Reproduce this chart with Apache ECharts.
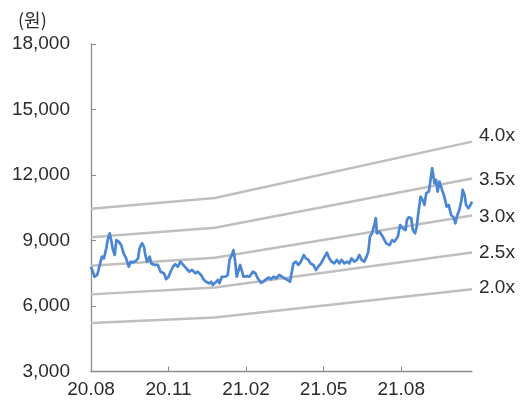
<!DOCTYPE html>
<html>
<head>
<meta charset="utf-8">
<script src="https://cdn.jsdelivr.net/npm/echarts@6/dist/echarts.min.js"></script>
<style>
  html, body { margin: 0; padding: 0; background: #fff; }
  #chart { width: 531px; height: 410px; }
</style>
</head>
<body>
<div id="chart"></div>
<script>
// Months elapsed since August 2020 (x) and share price in won (y)
const priceMonths = [
  0.00,0.14,0.24,0.34,0.42,0.50,0.59,0.66,0.72,0.78,
  0.85,0.92,0.98,1.07,1.17,1.26,1.36,1.46,1.53,1.62,
  1.73,1.82,1.88,1.97,2.05,2.10,2.17,2.27,2.33,2.46,
  2.59,2.69,2.82,2.91,3.00,3.08,3.17,3.26,3.36,3.46,
  3.55,
  3.68,3.81,3.91,4.04,4.13,4.26,4.35,4.45,4.56,4.65,
  4.71,4.80,4.91,4.97,5.06,5.13,5.20,5.29,5.36,5.45,
  5.51,5.57,5.64,5.70,5.77,5.83,5.90,6.03,6.13,6.26,
  6.36,6.45,6.58,6.67,6.77,6.88,6.96,7.06,7.16,7.29,
  7.35,7.48,7.61,7.70,7.76,7.83,7.93,8.02,8.12,8.23,
  8.32,8.41,8.49,8.55,8.61,8.70,8.79,8.90,9.00,9.13,
  9.22,9.31,9.41,9.51,9.61,9.69,9.80,9.90,9.99,10.08,
  10.19,10.29,10.38,10.47,10.57,10.66,10.73,10.79,10.87,10.96,
  11.02,
  11.06,11.16,11.29,11.42,11.55,11.65,11.74,11.87,11.96,12.06,
  12.17,12.22,12.29,12.39,12.45,12.54,12.60,12.68,12.75,12.83,
  12.90,12.97,13.07,13.13,13.20,13.29,13.35,13.41,13.48,13.56,
  13.67,13.76,13.84,13.93,14.02,14.10,14.16,14.25,14.32,14.38,
  14.45,14.51,14.60,14.68,14.74
];
const priceValues = [
  7800,7340,7420,7880,8260,8180,8640,9100,9330,9020,
  8560,8340,9020,8950,8790,8410,8180,7800,8030,8000,
  8060,8180,8640,8870,8720,8340,8030,8260,7950,7880,
  7880,7570,7500,7230,7340,7570,7800,7910,7800,8030,
  7910,
  7730,7570,7650,7500,7570,7420,7220,7110,7040,7110,
  6960,7060,7190,7040,7340,7270,7340,7420,8110,8340,
  8560,8110,7340,7310,7880,7800,7340,7370,7340,7570,
  7500,7270,7060,7110,7220,7310,7220,7340,7270,7420,
  7340,7270,7190,7110,7500,7950,8030,7880,8030,8340,
  8180,8110,7950,8030,7880,7650,7800,7950,8180,8440,
  8180,8030,7950,8110,7950,8110,7950,8030,7950,8180,
  8030,8110,8340,8110,8030,8260,8490,9170,9330,9710,
  10020,
  9330,9400,9170,8870,8790,9020,8950,9170,9710,9560,
  9480,9940,10070,10020,9480,9330,9630,10400,11010,10860,
  10630,11170,11240,11170,12310,11620,11780,11240,11700,11400,
  11010,10550,10630,10170,10070,9790,10120,10400,10780,11320,
  11090,10630,10480,10630,10780
];

// Book value per share (won) used for the P/B bands
const bpsMonths = [0, 4.79, 14.74];
const bpsValues = [2613, 2737, 3382];
const pbrMultiples = [2.0, 2.5, 3.0, 3.5, 4.0];
const bandLabels = ['2.0x', '2.5x', '3.0x', '3.5x', '4.0x'];

// Axis ticks
const tickMonths = [0, 3, 6, 9, 12];
const tickLabels = ['20.08', '20.11', '21.02', '21.05', '21.08'];
const yTicks = [3000, 6000, 9000, 12000, 15000, 18000];

const FONT = "'Liberation Sans', Arial, sans-serif";
const TEXT = '#2b2b2b';
const labelNudge = { '2.0x': -2, '2.5x': 0, '3.0x': 1, '3.5x': 1, '4.0x': -6 };

const bandSeries = pbrMultiples.map((k, i) => ({
  name: bandLabels[i],
  type: 'line',
  data: bpsMonths.map((m, j) => [m, bpsValues[j] * k]),
  symbol: 'none',
  clip: false,
  z: 2,
  lineStyle: { color: '#bfbfbf', width: 2.5 },
  emphasis: { disabled: true },
  endLabel: {
    show: true,
    formatter: '{a}',
    distance: 7,
    offset: [0, labelNudge[bandLabels[i]]],
    color: TEXT,
    fontFamily: FONT,
    fontSize: 19
  }
}));

const chart = echarts.init(document.getElementById('chart'), null, { renderer: 'canvas' });
chart.setOption({
  animation: false,
  backgroundColor: '#ffffff',
  title: {
    text: '(원)',
    left: 13,
    top: 6,
    textStyle: { fontFamily: "'Noto Sans CJK KR', sans-serif", fontSize: 18, fontWeight: 'normal', color: TEXT }
  },
  grid: { left: 91, right: 59, top: 44, bottom: 38.5, containLabel: false },
  xAxis: {
    type: 'value',
    min: 0,
    max: 14.74,
    interval: 3,
    splitLine: { show: false },
    axisLine: { lineStyle: { color: '#8c8c8c', width: 1.3 } },
    axisTick: { inside: true, length: 5, customValues: tickMonths, lineStyle: { color: '#8c8c8c' } },
    axisLabel: {
      customValues: tickMonths,
      formatter: v => tickLabels[tickMonths.indexOf(Math.round(v))] || '',
      color: TEXT, fontFamily: FONT, fontSize: 19, margin: 9
    }
  },
  yAxis: {
    type: 'value',
    min: 3000,
    max: 18000,
    interval: 3000,
    splitLine: { show: false },
    axisLine: { show: true, lineStyle: { color: '#8c8c8c', width: 1.3 } },
    axisTick: { show: true, inside: true, length: 5, lineStyle: { color: '#8c8c8c' } },
    axisLabel: {
      formatter: v => yTicks.includes(v) ? v.toLocaleString('en-US') : '',
      color: TEXT, fontFamily: FONT, fontSize: 19, margin: 21
    }
  },
  series: [
    ...bandSeries,
    {
      name: 'price',
      type: 'line',
      data: priceMonths.map((m, i) => [m, priceValues[i]]),
      symbol: 'none',
      clip: false,
      z: 3,
      lineStyle: { color: '#4a86d4', width: 2.7, join: 'round' },
      emphasis: { disabled: true }
    }
  ]
});
</script>
</body>
</html>
